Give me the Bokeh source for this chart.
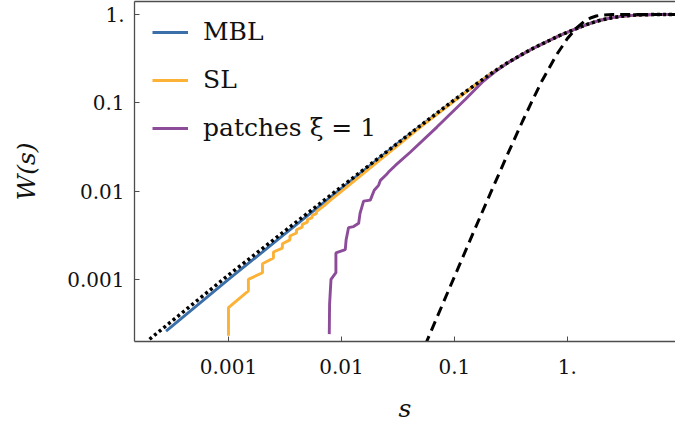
from bokeh.plotting import figure
from bokeh.models import FixedTicker, LogAxis, Legend, LegendItem
from bokeh.embed import file_html
from bokeh.resources import INLINE

# ---- data ----
tick_vals = [0.001, 0.01, 0.1, 1.0]
tick_labels = ["0.001", "0.01", "0.1", "1."]

poisson_s = [2.0e-4, 1e-3, 1e-2, 0.05, 0.1, 0.15, 0.2, 0.25, 0.3, 0.4, 0.5, 0.6, 0.7,
             0.85, 1.0, 1.2, 1.5, 1.75, 2.0, 2.5, 3.0, 4.0, 5.0, 6.0, 8.0, 9.5]
poisson_w = [2.1e-4, 1.12e-3, 1.12e-2, 5.5e-2, 0.108, 0.157, 0.204, 0.248, 0.287, 0.355, 0.415,
             0.465, 0.51, 0.575, 0.628, 0.69, 0.772, 0.824, 0.864, 0.918, 0.95, 0.982, 0.993,
             0.9975, 0.9997, 1.0]

gue_s = [0.055, 0.06, 0.08, 0.1, 0.15, 0.2, 0.3, 0.4, 0.5, 0.6, 0.8, 1.0, 1.2, 1.4, 1.6,
         1.8, 2.0, 2.5, 3.0, 4.0, 6.0, 9.5]
gue_w = [1.79e-4, 2.33e-4, 5.51e-4, 1.073e-3, 3.586e-3, 8.387e-3, 0.02725, 0.0613, 0.112,
         0.180, 0.3473, 0.5331, 0.7002, 0.8275, 0.9111, 0.9589, 0.9830, 0.9988, 0.99996,
         1.0, 1.0, 1.0]

mbl_s = [2.8e-4, 1e-3, 3e-3, 1e-2, 0.03, 0.1, 0.15, 0.2, 0.3, 0.4, 0.5, 0.6, 0.7, 0.85, 1.0,
         1.2, 1.5, 1.75, 2.0, 2.5, 3.0, 4.0, 5.0, 6.0, 8.0, 9.5]
mbl_w = [2.6e-4, 1.0e-3, 3.1e-3, 1.07e-2, 0.033, 0.106, 0.156, 0.203, 0.286, 0.354, 0.414,
         0.464, 0.51, 0.575, 0.628, 0.69, 0.772, 0.824, 0.864, 0.918, 0.95, 0.982, 0.993,
         0.9975, 0.9997, 1.0]

sl_s = [1.0e-3, 1.0e-3, 1.5e-3, 1.5e-3, 2.0e-3, 2.0e-3, 2.5e-3, 2.5e-3, 3.0e-3, 3.0e-3,
        3.5e-3, 3.5e-3, 4.0e-3, 4.0e-3, 4.5e-3, 4.5e-3, 5.0e-3, 5.0e-3, 5.5e-3, 5.5e-3,
        6.0e-3, 6.0e-3, 7.0e-3, 8.0e-3, 1.0e-2, 2.0e-2, 5.0e-2, 0.1, 0.15, 0.2, 0.3, 0.4,
        0.5, 0.6, 0.7, 0.85, 1.0, 1.2, 1.5, 1.75, 2.0, 2.5, 3.0, 4.0, 5.0, 6.0, 8.0, 9.5]
sl_w = [2.3e-4, 4.8e-4, 7.4e-4, 1.0e-3, 1.19e-3, 1.5e-3, 1.75e-3, 2.04e-3, 2.26e-3, 2.53e-3,
        2.8e-3, 3.1e-3, 3.35e-3, 3.65e-3, 3.9e-3, 4.2e-3, 4.45e-3, 4.75e-3, 5.0e-3, 5.3e-3,
        5.55e-3, 5.85e-3, 6.8e-3, 7.9e-3, 9.9e-3, 0.0205, 0.053, 0.105, 0.156, 0.203, 0.286,
        0.354, 0.414, 0.464, 0.51, 0.575, 0.628, 0.69, 0.772, 0.824, 0.864, 0.918, 0.95,
        0.982, 0.993, 0.9975, 0.9997, 1.0]

patch_s = [7.8e-3, 7.85e-3, 8.08e-3, 8.93e-3, 8.93e-3, 1.081e-2, 1.10e-2, 1.156e-2, 1.28e-2,
           1.42e-2, 1.46e-2, 1.57e-2, 1.80e-2, 1.95e-2, 2.13e-2, 2.21e-2, 2.49e-2, 2.61e-2,
           3.0e-2, 4.06e-2, 0.07, 0.1246, 0.18, 0.23, 0.3, 0.4, 0.5, 0.6, 0.7, 0.85, 1.0,
           1.2, 1.5, 1.75, 2.0, 2.5, 3.0, 4.0, 5.0, 6.0, 8.0, 9.5]
patch_w = [2.4e-4, 5.24e-4, 1.0e-3, 1.19e-3, 1.99e-3, 2.17e-3, 2.81e-3, 3.86e-3, 3.96e-3,
           4.31e-3, 5.59e-3, 7.69e-3, 7.9e-3, 1.02e-2, 1.16e-2, 1.32e-2, 1.53e-2, 1.64e-2,
           1.95e-2, 2.75e-2, 0.053, 0.1087, 0.175, 0.225, 0.286, 0.354, 0.414, 0.464, 0.51,
           0.575, 0.628, 0.69, 0.772, 0.824, 0.864, 0.918, 0.95, 0.982, 0.993, 0.9975,
           0.9997, 1.0]

# ---- figure ----
FONT = "DejaVu Serif"
AX = "#4d4d4d"

p = figure(width=675, height=430, x_axis_type="log", y_axis_type="log",
           x_range=(1.472e-4, 9.06), y_range=(1.98e-4, 1.4),
           output_backend="svg", toolbar_location=None,
           min_border_left=134, min_border_right=0, min_border_top=1,
           min_border_bottom=89)
p.xgrid.visible = False
p.ygrid.visible = False
p.outline_line_color = None
p.background_fill_color = "white"

for ax in (p.xaxis[0], p.yaxis[0]):
    ax.ticker = FixedTicker(ticks=tick_vals)
    ax.major_label_overrides = {v: l for v, l in zip(tick_vals, tick_labels)}
    ax.minor_tick_line_color = None
    ax.major_tick_in = 5
    ax.major_tick_out = 0
    ax.major_tick_line_color = AX
    ax.axis_line_color = AX
    ax.axis_line_width = 1.3
    ax.major_label_text_font = FONT
    ax.major_label_text_font_size = "20px"
    ax.major_label_text_color = "#111111"
    ax.axis_label_text_font = FONT
    ax.axis_label_text_font_size = "25px"
    ax.axis_label_text_font_style = "italic"
    ax.axis_label_text_color = "#111111"

p.xaxis.axis_label = "s"
p.yaxis.axis_label = "W(s)"
p.xaxis.major_label_standoff = 17
p.yaxis.major_label_standoff = 10
p.xaxis.axis_label_standoff = 17
p.yaxis.axis_label_standoff = 23

top = LogAxis(ticker=FixedTicker(ticks=[]), major_label_text_font_size="0px",
              major_tick_line_color=None, minor_tick_line_color=None,
              major_tick_in=0, major_tick_out=0, major_label_standoff=0,
              axis_label_standoff=0,
              axis_line_color=AX, axis_line_width=1.3)
p.add_layout(top, "above")

r_mbl = p.line(mbl_s, mbl_w, line_color="#3a6fa9", line_width=2.9)
r_sl = p.line(sl_s, sl_w, line_color="#fbb236", line_width=2.9)
r_patch = p.line(patch_s, patch_w, line_color="#8c4c9a", line_width=2.9)
p.line(poisson_s, poisson_w, line_color="black", line_width=3.5, line_dash="3 3")
p.line(gue_s, gue_w, line_color="black", line_width=3, line_dash="10 6")

legend = Legend(items=[LegendItem(label="MBL", renderers=[r_mbl]),
                       LegendItem(label="SL", renderers=[r_sl]),
                       LegendItem(label="patches ξ = 1", renderers=[r_patch])],
                location=(18, 199), border_line_color=None, background_fill_alpha=0,
                label_text_font=FONT, label_text_font_size="25px",
                label_text_color="#111111",
                glyph_width=36, glyph_height=24, label_height=24, spacing=19,
                padding=0, margin=0, label_standoff=15)
p.add_layout(legend)

open("out.html", "w").write(file_html(p, INLINE))
